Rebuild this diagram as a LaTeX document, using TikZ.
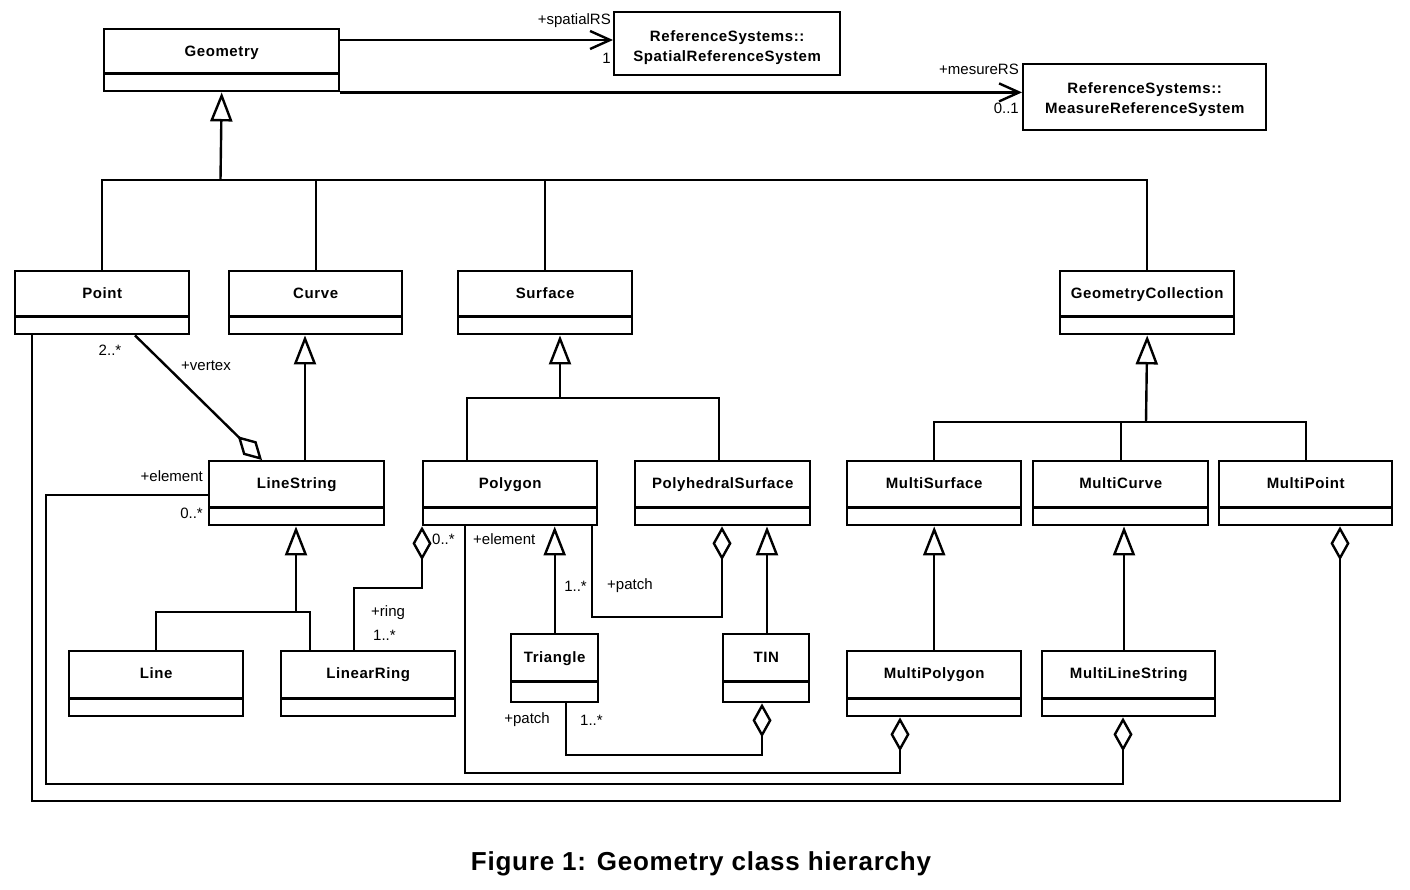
\documentclass[tikz,border=0pt]{standalone}
\usepackage{fontspec}
\setmainfont{Liberation Sans}
\newfontfamily\classfont[LetterSpace=4]{Liberation Sans}
\newfontfamily\captionfont[LetterSpace=3]{Liberation Sans}
\usetikzlibrary{arrows.meta}

\tikzset{
  umlclass/.style={draw, line width=2.4pt, fill=white, inner sep=0pt, anchor=north west,
    font=\classfont\bfseries\fontsize{15}{18}\selectfont,
    text height=27.5pt, text depth=#1, minimum width=174pt},
  umlclass/.default=35.5pt,
  umlref/.style={draw, line width=2.4pt, fill=white, inner sep=0pt, anchor=north west,
    align=center, font=\classfont\bfseries\fontsize{15}{20}\selectfont},
  role/.style={inner sep=0pt, font=\fontsize{15}{18}\selectfont},
  conn/.style={line width=2.4pt},
  assoc/.style={conn, -{Straight Barb[length=20pt, width=18pt]}},
  gen/.style={conn, -{Triangle[open, length=29pt, width=22pt]}},
  agg/.style={conn, -{Diamond[open, length=34pt, width=19pt]}}
}

\begin{document}
\begin{tikzpicture}[x=1pt, y=-1pt]
  \useasboundingbox (0,0) rectangle (1410,889);

  % classes
  \node[umlclass=34.5pt, minimum width=235pt] (geometry) at (103,28) {Geometry};
  \node[umlref, minimum width=226pt, minimum height=63pt] (spatialrs) at (613,11)
    {\rule{0pt}{18pt}ReferenceSystems::\\SpatialReferenceSystem};
  \node[umlref, minimum width=243pt, minimum height=66pt] (measurers) at (1022,63)
    {\rule{0pt}{15pt}ReferenceSystems::\\MeasureReferenceSystem};

  \node[umlclass] (point) at (14,270) {Point};
  \node[umlclass, minimum width=173pt] (curve) at (228,270) {Curve};
  \node[umlclass] (surface) at (457,270) {Surface};
  \node[umlclass] (geomcoll) at (1059,270) {GeometryCollection};

  \node[umlclass=36.5pt, minimum width=175pt] (linestring) at (208,460) {LineString};
  \node[umlclass=36.5pt] (polygon) at (422,460) {Polygon};
  \node[umlclass=36.5pt, minimum width=175pt] (polyhedral) at (634,460) {PolyhedralSurface};
  \node[umlclass=36.5pt] (multisurface) at (846,460) {MultiSurface};
  \node[umlclass=36.5pt, minimum width=175pt] (multicurve) at (1032,460) {MultiCurve};
  \node[umlclass=36.5pt, minimum width=173pt] (multipoint) at (1218,460) {MultiPoint};

  \node[umlclass=37.5pt] (line) at (68,650) {Line};
  \node[umlclass=37.5pt] (linearring) at (280,650) {LinearRing};
  \node[umlclass=39.5pt, text height=28.5pt, minimum width=87pt] (triangle) at (510,633) {Triangle};
  \node[umlclass=39.5pt, text height=28.5pt, minimum width=86pt] (tin) at (722,633) {TIN};
  \node[umlclass=37.5pt] (multipolygon) at (846,650) {MultiPolygon};
  \node[umlclass=37.5pt, minimum width=173pt] (multilinestring) at (1041,650) {MultiLineString};

  \foreach \c/\d in {geometry/19, point/19, curve/19, surface/19, geomcoll/19,
      linestring/19, polygon/19, polyhedral/19, multisurface/19, multicurve/19,
      multipoint/19, line/19, linearring/19, triangle/22, tin/22,
      multipolygon/19, multilinestring/19}
    \draw[conn] ([yshift=\d pt]\c.south west) -- ([yshift=\d pt]\c.south east);

  % associations to reference systems
  \draw[assoc] (geometry.east |- 0,40) -- (spatialrs.west |- 0,40);
  \draw[assoc] (geometry.south east) -- (measurers.west |- geometry.south east);
  \node[role, anchor=east] (spatialname) at (611,21) {+spatialRS};
  \node[role, anchor=east] (spatialmult) at (611,58) {1};
  \node[role, anchor=east] (measurename) at (1019,69) {+mesureRS};
  \node[role, anchor=east] (measuremult) at (1019,108) {0..1};

  % generalizations
  \coordinate (geombus) at (220.5,180);
  \draw[gen] (geombus) -- (geometry.south);
  \draw[conn] (point.north) |- (geombus) -| (geomcoll.north);
  \draw[conn] (curve.north) -- (curve.north |- geombus);
  \draw[conn] (surface.north) -- (surface.north |- geombus);

  \draw[gen] (linestring.north -| 305,0) -- (curve.south -| 305,0);

  \coordinate (surfbus) at (560,398);
  \draw[gen] (surfbus) -- (surface.south -| surfbus);
  \draw[conn] (polygon.north -| 467,0) |- (surfbus) -| (polyhedral.north -| 719,0);

  \coordinate (collbus) at (1146,422);
  \draw[gen] (collbus) -- (geomcoll.south);
  \draw[conn] (multisurface.north) |- (collbus) -| (multipoint.north);
  \draw[conn] (multicurve.north) -- (multicurve.north |- collbus);

  \coordinate (linebus) at (296,612);
  \draw[gen] (linebus) -- (linestring.south -| linebus);
  \draw[conn] (line.north) |- (linebus) -| (linearring.north -| 310,0);

  \draw[gen] (triangle.north) -- (polygon.south -| triangle.north);
  \draw[gen] (tin.north -| 767,0) -- (polyhedral.south -| 767,0);
  \draw[gen] (multipolygon.north) -- (multisurface.south);
  \draw[gen] (multilinestring.north -| 1124,0) -- (multicurve.south -| 1124,0);

  % aggregations
  \draw[agg] (point.south -| 135,0) -- (linestring.north -| 262,0);
  \node[role] (vertexmult) at (110,350) {2..*};
  \node[role] (vertexname) at (206,366) {+vertex};

  \draw[agg] (linearring.north -| 354,0) |- (422,588) -- (polygon.south west);
  \node[role, anchor=west] (ringowner) at (432,539) {0..*};
  \node[role, anchor=west] (ringname) at (371,613) {+ring};
  \node[role, anchor=west] (ringmult) at (373,635) {1..*};

  \draw[agg] (polygon.south -| 592,0) |- (722,617) -- (polyhedral.south -| 722,0);
  \node[role, anchor=east] (patchmult) at (587,586) {1..*};
  \node[role, anchor=west] (patchname) at (607,586) {+patch};

  \draw[agg] (triangle.south -| 566,0) |- (762,755) -- (tin.south -| 762,0);
  \node[role, anchor=east] (tinpatch) at (550,720) {+patch};
  \node[role, anchor=west] (tinmult) at (580,720) {1..*};

  \draw[agg] (polygon.south -| 465,0) |- (900,773) -- (multipolygon.south -| 900,0);
  \node[role, anchor=west] (polyelement) at (473,539) {+element};

  \draw[agg] (linestring.west |- 0,495) -| (46,784) -| (multilinestring.south -| 1123,0);
  \node[role, anchor=east] (lineelement) at (203,476) {+element};
  \node[role, anchor=east] (linemult) at (203,513) {0..*};

  \draw[agg] (point.south -| 32,0) |- (1340,801) -- (multipoint.south -| 1340,0);

  \node[font=\captionfont\bfseries\fontsize{26}{30}\selectfont, anchor=base] (caption)
    at (701,870) {Figure 1: Geometry class hierarchy};
\end{tikzpicture}
\end{document}
